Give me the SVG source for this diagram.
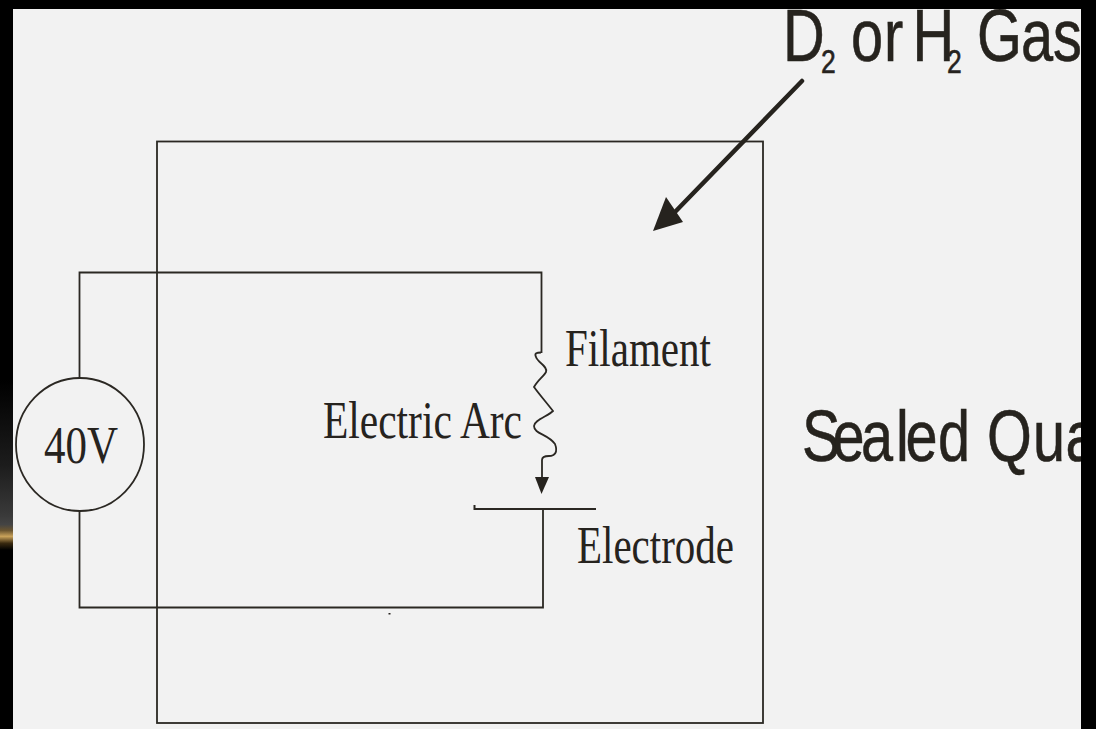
<svg xmlns="http://www.w3.org/2000/svg" width="1096" height="729" viewBox="0 0 1096 729">
<style>
.w{fill:none;stroke:#2b2823;stroke-width:1.8}
.s{font-family:"Liberation Serif",serif;fill:#26231e;font-size:53px}
.a{font-family:"Liberation Sans",sans-serif;fill:#26231e;stroke:#26231e;stroke-width:.6}
</style>
<defs>
<linearGradient id="g" x1="0" y1="0" x2="0" y2="1">
<stop offset="0" stop-color="#000"/><stop offset="0.5" stop-color="#1c1c1c"/><stop offset="0.8" stop-color="#3a3a3a"/><stop offset="0.85" stop-color="#444"/><stop offset="0.885" stop-color="#6a5530"/><stop offset="0.92" stop-color="#c9a25a"/><stop offset="0.96" stop-color="#3a2a10"/><stop offset="1" stop-color="#000"/>
</linearGradient>
<clipPath id="c"><rect x="13" y="9" width="1068" height="720"/></clipPath>
</defs>
<rect width="1096" height="729" fill="#000"/>
<rect x="0" y="380" width="13" height="170" fill="url(#g)"/>
<rect x="13" y="9" width="1068" height="720" fill="#f2f2f2"/>
<g id="chamber"><rect class="w" x="157" y="141.500" width="606" height="581.500"/></g>
<g id="connectors">
<path class="w" d="M79.500 378V272.500H541.500V353"/>
<path class="w" d="M79.500 511V607.500H543V509"/>
<path d="M541 352.500C537 352.500 534 353 536 357C538 363 548 366 546 372C544 376 538 380 534 387C539 394 546 402 553 411C548 416 534 420 534 426C534 434 548 434 555 444C558 452 555 456 549 456C544 456 542 457 542 460V478" fill="none" stroke="#2b2823" stroke-width="1.800"/>
<polygon points="535,477 549,477 541.500,494" fill="#26231e"/>
<path d="M474.500 505V509H596" fill="none" stroke="#2b2823" stroke-width="2"/>
<path d="M802 81L675 212" fill="none" stroke="#26231e" stroke-width="4.500" stroke-linecap="round"/>
<polygon points="653,231 666,197 683,222" fill="#26231e"/>
<rect x="388.500" y="613" width="2" height="1.500" fill="#26231e"/>
</g>
<g id="source"><ellipse class="w" cx="80" cy="444.500" rx="64" ry="66.500"/><text class="s" x="44" y="463" textLength="74" lengthAdjust="spacingAndGlyphs">40V</text></g>
<g id="filament"><text class="s" x="565" y="366" textLength="146" lengthAdjust="spacingAndGlyphs">Filament</text></g>
<g id="arc"><text class="s" x="323" y="438" textLength="199" lengthAdjust="spacingAndGlyphs">Electric Arc</text></g>
<g id="electrode"><text class="s" x="577" y="563" textLength="157" lengthAdjust="spacingAndGlyphs">Electrode</text></g>
<g id="gas" clip-path="url(#c)"><text class="a" transform="translate(0 61) scale(.78 1)" font-size="74"><tspan x="1003.800">D</tspan><tspan x="1052.600" y="12" font-size="34">2</tspan><tspan x="1091" y="0">o</tspan><tspan x="1133.300">r</tspan><tspan x="1169.900">H</tspan><tspan x="1214.100" y="12" font-size="34">2</tspan><tspan x="1252.600" y="0">G</tspan><tspan x="1309">a</tspan><tspan x="1350">s</tspan></text></g>
<g id="quartz" clip-path="url(#c)"><text class="a" transform="translate(0 461) scale(.8 1)" font-size="72" x="1002.500 1040.600 1076.300 1120 1131.900 1172.500 1200 1233.800 1291.300 1331.900">Sealed Qua</text></g>
</svg>
